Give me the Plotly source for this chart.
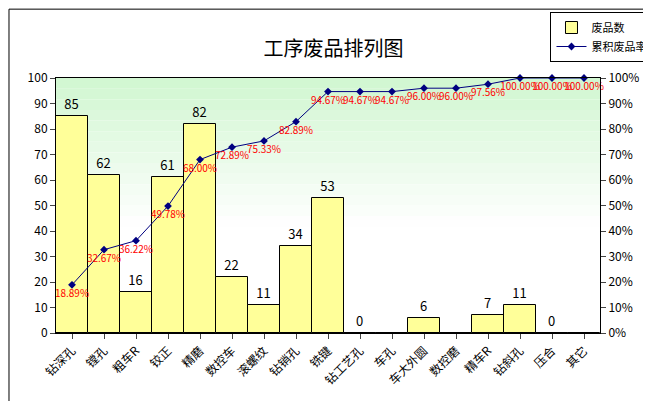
import plotly.graph_objects as go

cats = ["钻深孔", "镗孔", "粗车R", "铰正", "精磨", "数控车", "滚螺纹", "钻销孔", "铣键",
        "钻工艺孔", "车孔", "车大外圆", "数控磨", "精车R", "钻斜孔", "压合", "其它"]
counts = [85, 62, 16, 61, 82, 22, 11, 34, 53, 0, 0, 6, 0, 7, 11, 0, 0]
cum_pct = [18.89, 32.67, 36.22, 49.78, 68.00, 72.89, 75.33, 82.89, 94.67,
           94.67, 94.67, 96.00, 96.00, 97.56, 100.00, 100.00, 100.00]

bar_text = [str(v) if (v > 0 or c in ("钻工艺孔", "压合")) else "" for v, c in zip(counts, cats)]

fig = go.Figure()
fig.add_trace(go.Bar(
    x=cats, y=counts, name="废品数", text=bar_text, textposition="outside",
    textfont=dict(size=13, color="black"), cliponaxis=False,
    marker=dict(color="#ffff99", line=dict(color="black", width=1)), width=1.0,
))
fig.add_trace(go.Scatter(
    x=cats, y=cum_pct, name="累积废品率", yaxis="y2", mode="lines+markers+text",
    line=dict(color="#000080", width=1), marker=dict(symbol="diamond", size=6, color="#000080"),
    text=[f"{p:.2f}%" for p in cum_pct], textposition="bottom center",
    textfont=dict(size=10, color="red"), cliponaxis=False,
))

# green-to-white background gradient
shapes = []
n = 24
for i in range(n):
    y0 = 1 - (i + 1) / n
    y1 = 1 - i / n
    a = max(0.0, 1 - (i / n) / 0.55)
    shapes.append(dict(type="rect", xref="paper", yref="paper", x0=0, x1=1, y0=y0, y1=y1,
                       fillcolor=f"rgb({int(255 - 45*a)},{int(255 - 8*a)},{int(255 - 45*a)})",
                       line=dict(width=0), layer="below"))
# outer chart border
shapes.append(dict(type="rect", xref="paper", yref="paper", x0=-0.0864, x1=1.1048,
                   y0=-0.29, y1=1.27, line=dict(color="black", width=1)))

fig.update_layout(
    width=651, height=401,
    margin=dict(l=48, r=59, t=70, b=76, autoexpand=False),
    paper_bgcolor="white", plot_bgcolor="white",
    font=dict(family="Noto Sans CJK SC", size=12, color="black"),
    title=dict(text="工序废品排列图", x=0.5, xanchor="center", y=0.915, font=dict(size=20)),
    showlegend=True,
    legend=dict(x=0.99, y=0.99, xref="container", yref="container", xanchor="right", yanchor="top",
                bgcolor="white", bordercolor="black", borderwidth=1, font=dict(size=11),
                tracegroupgap=0, itemwidth=30),
    xaxis=dict(tickangle=-45, showline=True, linecolor="black", ticks="outside",
               tickfont=dict(size=12), range=[-0.5, 16.5], mirror=True),
    yaxis=dict(range=[0, 100], dtick=10, showgrid=False, showline=True, linecolor="black",
               ticks="outside", tickfont=dict(size=12)),
    yaxis2=dict(range=[0, 100], dtick=10, overlaying="y", side="right", ticksuffix="%",
                showgrid=False, showline=True, linecolor="black", ticks="outside",
                tickfont=dict(size=12)),
    bargap=0, shapes=shapes,
)
fig.write_html("out.html")
